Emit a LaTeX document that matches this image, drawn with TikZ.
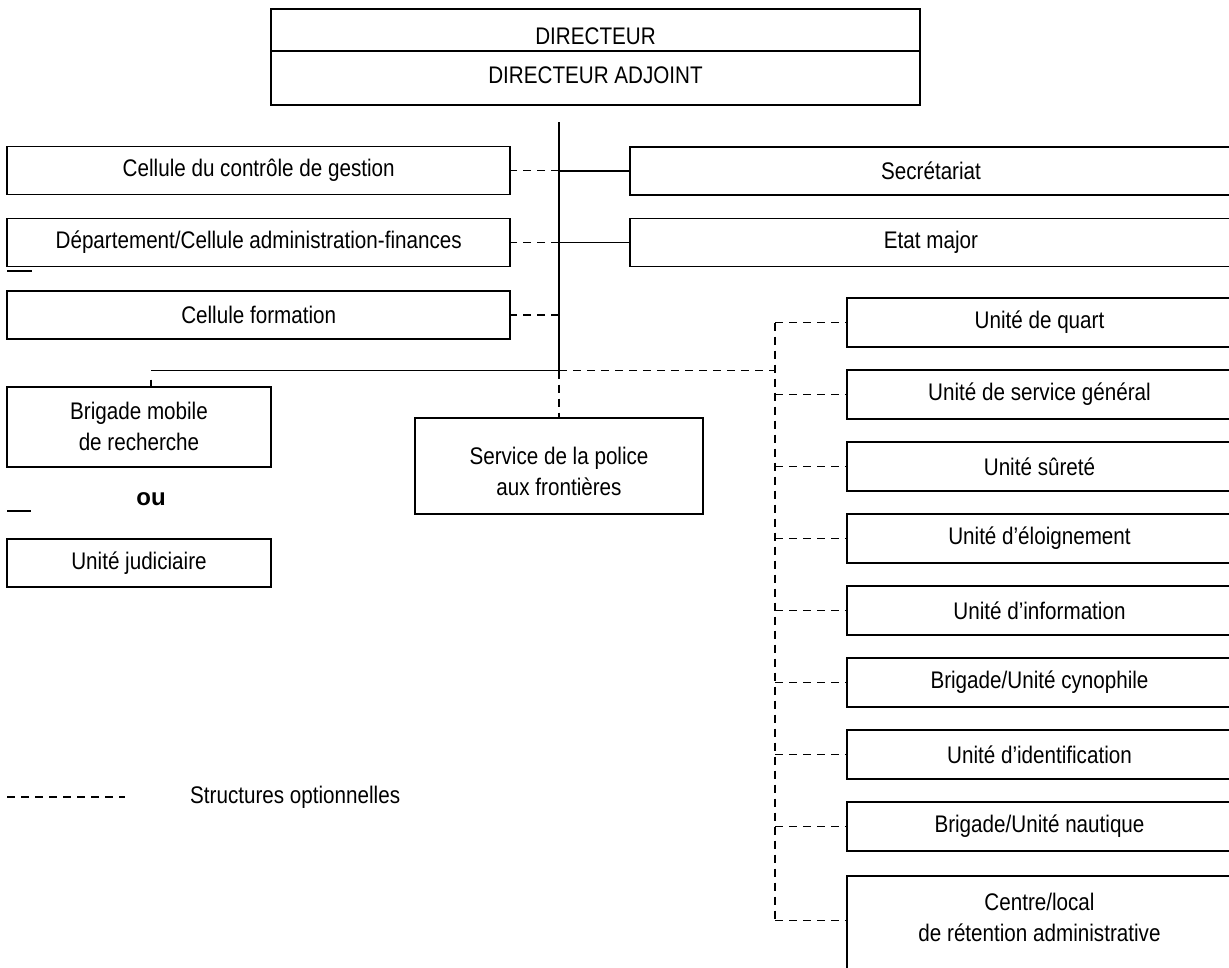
\documentclass[tikz,border=0pt]{standalone}
\usepackage{fontspec}
\setmainfont{Liberation Sans}[FakeStretch=0.86]
\newfontfamily\oufont{Liberation Sans}[FakeStretch=1.0]
\begin{document}
\begin{tikzpicture}[x=1pt,y=-1pt,
  lw/.style={line width=1.9pt},
  box/.style={draw,lw,inner sep=0pt,align=center,font=\fontsize{24}{31}\selectfont},
  txt/.style={inner sep=0pt,align=center,font=\fontsize{24}{31}\selectfont},
  opt/.style={lw,dash pattern=on 8pt off 6pt},
  link/.style={lw}]
\useasboundingbox (0,0) rectangle (1229,967);
\clip (0,0) rectangle (1229,967);

% Direction
\node[box,minimum width=649,minimum height=96] (dir) at (595.5,57.3) {};
\draw[lw] (dir.west |- 0,50.7) -- (dir.east |- 0,50.7);
\node[txt] (dirt) at (595.5,36) {DIRECTEUR};
\node[txt] (adjt) at (595.5,75) {DIRECTEUR ADJOINT};

% Trunk
\coordinate (trunk) at (559,122);
\coordinate (hub) at (559,370.5);
\draw[link] (trunk) -- (hub);

% Left staff cells
\node[box,minimum width=503,minimum height=48] (ccg) at (258.7,170.5) {Cellule du contrôle de gestion};
\node[box,minimum width=503,minimum height=48] (daf) at (258.7,242.5) {Département/Cellule administration-finances};
\node[box,minimum width=503,minimum height=48] (cf) at (258.7,315) {Cellule formation};
\draw[opt] (hub |- ccg.east) -- (ccg.east);
\draw[opt] (hub |- daf.east) -- (daf.east);
\draw[opt] (hub |- cf.east) -- (cf.east);

% Right staff services
\node[box,minimum width=602,minimum height=48] (sec) at (931,171) {Secrétariat};
\node[box,minimum width=602,minimum height=48] (em) at (931,242.5) {Etat major};
\draw[link] (hub |- sec.west) -- (sec.west);
\draw[link] (hub |- em.west) -- (em.west);

% Lower branch
\coordinate (bm) at (151,370.5);
\node[box,minimum width=264,minimum height=80] (brig) at (139,426.7) {Brigade mobile\\de recherche};
\node[txt,font=\oufont\bfseries\fontsize{24}{28}\selectfont] (ou) at (151,499) {ou};
\node[box,minimum width=264,minimum height=48] (uj) at (139,563) {Unité judiciaire};
\draw[link] (bm) -- (hub);
\draw[link] ([yshift=-9pt]bm) -- (bm |- brig.north);
\draw[lw] (7,271) -- (32,271);
\draw[lw] (7,511) -- (31,511);

\node[box,minimum width=288,minimum height=96] (paf) at (559,466) {};
\node[txt] (paft) at (559,471) {Service de la police\\aux frontières};
\draw[opt] (hub) -- (paf.north);

% Optional units
\coordinate (spine) at (775,370.5);
\node[box,minimum width=385,minimum height=48.3] (u1) at (1039.5,322.5) {Unité de quart};
\node[box,minimum width=385,minimum height=48.3] (u2) at (1039.5,394.5) {Unité de service général};
\node[box,minimum width=385,minimum height=48.3] (u3) at (1039.5,466.5) {Unité sûreté};
\node[box,minimum width=385,minimum height=48.3] (u4) at (1039.5,538.5) {Unité d’éloignement};
\node[box,minimum width=385,minimum height=48.3] (u5) at (1039.5,610.5) {Unité d’information};
\node[box,minimum width=385,minimum height=48.3] (u6) at (1039.5,682.5) {Brigade/Unité cynophile};
\node[box,minimum width=385,minimum height=48.3] (u7) at (1039.5,754.5) {Unité d’identification};
\node[box,minimum width=385,minimum height=48.3] (u8) at (1039.5,826.5) {Brigade/Unité nautique};
\node[box,minimum width=385,minimum height=120,anchor=north] (u9) at (1039.5,875) {};
\node[txt] (u9t) at (1039.5,917) {Centre/local\\de rétention administrative};
\coordinate (u9c) at (847,920.5);

\draw[opt] (hub) -- (spine);
\draw[opt] (spine |- u1.west) -- (spine |- u9c);
\foreach \n in {u1,u2,u3,u4,u5,u6,u7,u8}
  \draw[opt] (spine |- \n.west) -- (\n.west);
\draw[opt] (spine |- u9c) -- (u9c);

% Legend
\coordinate (lg1) at (7,797);
\coordinate (lg2) at (125,797);
\draw[opt] (lg1) -- (lg2);
\node[txt,anchor=west] (lgt) at (190,797) {Structures optionnelles};
\end{tikzpicture}
\end{document}
